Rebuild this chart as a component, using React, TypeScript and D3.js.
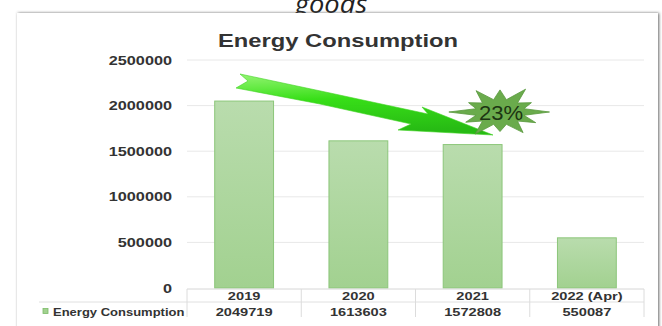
import React from "react";
import * as d3 from "d3";

const categories = ["2019", "2020", "2021", "2022 (Apr)"];
const values = [2049719, 1613603, 1572808, 550087];
const yTicks = [0, 500000, 1000000, 1500000, 2000000, 2500000];
const seriesName = "Energy Consumption";
const chartTitle = "Energy Consumption";
const headerText = "goods";
const badgeText = "23%";

const W = 662;
const H = 326;
const SX = 1.25; // horizontal text stretch seen in the picture

function ST({ x, y, size, anchor = "middle", weight = "bold", fill = "#333", sx = SX, family = "Liberation Sans, Arial, sans-serif", style = "normal", children }: any) {
  return (
    <g transform={`translate(${x},${y}) scale(${sx},1)`}>
      <text textAnchor={anchor} fontSize={size} fontWeight={weight} fill={fill} fontFamily={family} fontStyle={style}>
        {children}
      </text>
    </g>
  );
}

export default function App() {
  const plotL = 187;
  const plotR = 644;
  const plotT = 60;
  const plotB = 288;

  const x = d3.scaleBand<string>().domain(categories).range([plotL, plotR]).paddingInner(0.485).paddingOuter(0.2425);
  const y = d3.scaleLinear().domain([0, 2500000]).range([plotB, plotT]);
  const step = x.step();

  // starburst decoration
  const cx = 500, cy = 112;
  const outerR = [26, 31, 22, 30, 25, 28, 23, 30, 24, 31, 22, 29];
  const starPts: [number, number][] = [];
  for (let i = 0; i < 24; i++) {
    const a = (i * 15 - 90) * Math.PI / 180;
    const r = i % 2 === 0 ? outerR[i / 2] : 15;
    starPts.push([cx + r * Math.cos(a) * 1.65, cy + r * Math.sin(a) * 0.85]);
  }
  const arrowPts: [number, number][] = [
    [240, 74], [330, 93], [428, 114], [422, 107], [493, 135], [398, 130], [411, 124], [320, 104], [236, 88], [248, 81],
  ];
  const line = d3.line();

  const tableTop = plotB + 1;
  const rowSep = 302;
  const tableBot = 317;

  return (
    <svg width={W} height={H} style={{ position: "absolute", left: 0, top: 0, background: "#fff" }}>
      <defs>
        <filter id="sh" x="-5%" y="-5%" width="110%" height="110%">
          <feDropShadow dx="1" dy="0" stdDeviation="1.6" floodColor="#555" floodOpacity="0.9" />
        </filter>
        <linearGradient id="barG" x1="0" y1="0" x2="0" y2="1">
          <stop offset="0" stopColor="#b9dcad" />
          <stop offset="1" stopColor="#a2d190" />
        </linearGradient>
        <linearGradient id="arrG" x1="0" y1="0" x2="0.15" y2="1">
          <stop offset="0" stopColor="#8ff56c" />
          <stop offset="0.45" stopColor="#2ede0c" />
          <stop offset="1" stopColor="#1cb808" />
        </linearGradient>
      </defs>
      <rect x={0} y={0} width={W} height={H} fill="#fff" />
      <ST x={331} y={13} size={26} weight="normal" fill="#222" sx={1.05} style="italic" family="Open Sans, Liberation Sans, sans-serif">{headerText}</ST>
      <rect x={17} y={13} width={641} height={340} fill="#fff" filter="url(#sh)" />

      <ST x={338} y={47} size={19}>{chartTitle}</ST>

      {yTicks.map((t) => (
        <g key={t}>
          {t > 0 && <line x1={plotL} x2={plotR} y1={y(t)} y2={y(t)} stroke="#e8e8e8" strokeWidth={1} />}
          <ST x={172} y={y(t) + 4.5} size={13} anchor="end">{String(t)}</ST>
        </g>
      ))}

      {categories.map((c, i) => (
        <rect key={c} x={x(c)} y={y(values[i])} width={x.bandwidth()} height={plotB - y(values[i])} fill="url(#barG)" stroke="#8cc67a" strokeWidth={1} />
      ))}

      {/* data table */}
      <line x1={plotL} x2={plotR} y1={tableTop} y2={tableTop} stroke="#d6d6d6" />
      <line x1={39} x2={plotR} y1={rowSep} y2={rowSep} stroke="#e0e0e0" />
      {d3.range(categories.length + 1).map((i) => (
        <line key={i} x1={plotL + i * step} x2={plotL + i * step} y1={tableTop} y2={tableBot} stroke="#dcdcdc" />
      ))}
      {categories.map((c, i) => (
        <g key={c}>
          <ST x={x(c)! + x.bandwidth() / 2} y={300} size={11.7}>{c}</ST>
          <ST x={x(c)! + x.bandwidth() / 2} y={315.5} size={11.7}>{String(values[i])}</ST>
        </g>
      ))}
      <rect x={43} y={308.5} width={5} height={5} fill="#a2d190" stroke="#7cbb68" strokeWidth={0.8} />
      <ST x={53} y={315.5} size={10.4} anchor="start">{seriesName}</ST>

      {/* annotation arrow and burst */}
      <path d={line(arrowPts)! + "Z"} fill="url(#arrG)" stroke="#35d015" strokeWidth={0.6} opacity={0.95} />
      <path d={line(starPts)! + "Z"} fill="#6aab4c" stroke="#58983c" strokeWidth={0.8} />
      <ST x={cx + 1} y={cy + 7.5} size={21} weight="normal" fill="#1c3512" sx={1.05}>{badgeText}</ST>
    </svg>
  );
}
